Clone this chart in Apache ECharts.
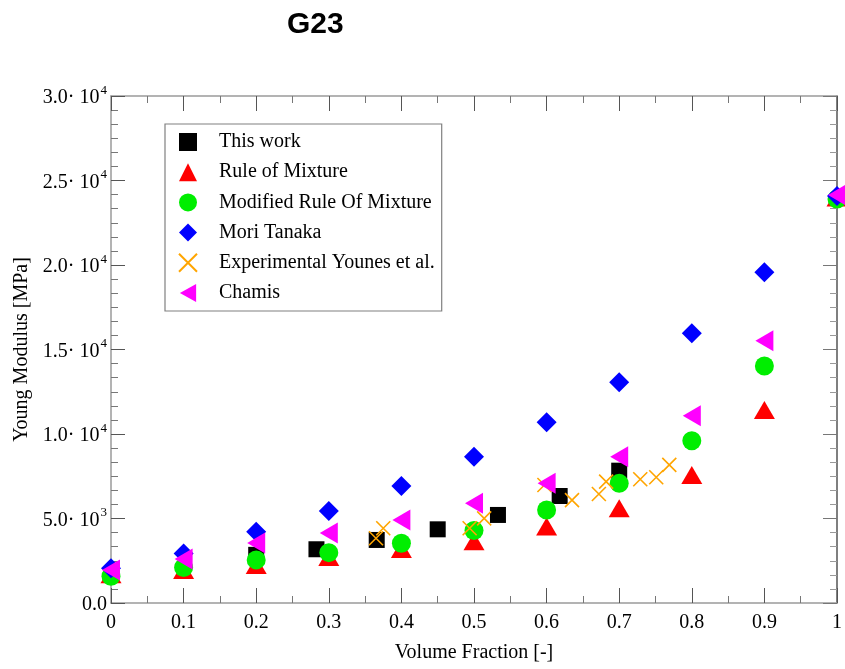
<!DOCTYPE html>
<html>
<head>
<meta charset="utf-8">
<script src="https://cdn.jsdelivr.net/npm/echarts@6/dist/echarts.min.js"></script>
<style>html,body{margin:0;padding:0;background:#fff;}#c{width:845px;height:669px;}</style>
</head>
<body>
<div id="c"></div>
<script>
// ---- data ----
const seriesNames = ['This work','Rule of Mixture','Modified Rule Of Mixture','Mori Tanaka','Experimental Younes et al.','Chamis'];
const thisWorkX = [0.2, 0.283, 0.366, 0.45, 0.533, 0.618, 0.7];
const thisWorkY = [2850, 3180, 3730, 4360, 5210, 6330, 7830];
const volFrac = [0, 0.1, 0.2, 0.3, 0.4, 0.5, 0.6, 0.7, 0.8, 0.9, 1.0];
const ruleOfMixtureY = [1700, 1950, 2250, 2720, 3200, 3650, 4520, 5600, 7570, 11420, 24000];
const modifiedRoMY = [1580, 2100, 2550, 2980, 3540, 4290, 5500, 7080, 9600, 14020, 23900];
const moriTanakaY = [2050, 2930, 4220, 5450, 6920, 8660, 10690, 13060, 15960, 19570, 24080];
const chamisY = [1950, 2600, 3550, 4140, 4910, 5900, 7080, 8660, 11080, 15520, 24140];
const expX = [0.365, 0.375, 0.494, 0.514, 0.597, 0.635, 0.672, 0.682, 0.729, 0.751, 0.769];
const expY = [3830, 4420, 4420, 5010, 6980, 6090, 6450, 7180, 7320, 7440, 8170];
const xTickLabels = ['0','0.1','0.2','0.3','0.4','0.5','0.6','0.7','0.8','0.9','1'];
const yTickMantissa = ['0.0','5.0','1.0','1.5','2.0','2.5','3.0'];
const yTickExp = ['','3','4','4','4','4','4'];

const zip = (xs, ys) => xs.map((x, i) => [x, ys[i]]);
const serif = 'Liberation Serif';
const crossPath = 'path://M0,0L10,10M10,0L0,10';
const leftTriPath = 'path://M0,5L9,0L9,10Z';

const option = {
  backgroundColor: '#fff',
  animation: false,
  title: {
    text: 'G23', left: 282, top: 5,
    textStyle: { fontFamily: 'Liberation Sans', fontWeight: 'bold', fontSize: 30, color: '#000' }
  },
  grid: { left: 111, right: 7, top: 96, bottom: 66, containLabel: false },
  legend: {
    orient: 'vertical', left: 165, top: 124,
    padding: [8, 7, 8, 13],
    itemWidth: 18, itemHeight: 18, itemGap: 10.2,
    borderColor: '#808080', borderWidth: 1.2, backgroundColor: '#fff',
    textStyle: { fontFamily: serif, fontSize: 20, color: '#000', padding: [0, 0, 0, 17] },
    data: seriesNames
  },
  xAxis: [{
    type: 'value', min: 0, max: 1, interval: 0.1,
    name: 'Volume Fraction [-]', nameLocation: 'middle', nameGap: 40,
    nameTextStyle: { fontFamily: serif, fontSize: 20, color: '#000' },
    axisLine: { show: true, onZero: false, lineStyle: { color: '#9a9a9a', width: 1.5 } },
    axisTick: { inside: true, length: 15, lineStyle: { color: '#555' } },
    minorTick: { show: true, splitNumber: 2, length: 7, lineStyle: { color: '#777' } },
    splitLine: { show: false },
    axisLabel: { margin: 10, fontFamily: serif, fontSize: 20, color: '#000',
      formatter: (v) => xTickLabels[Math.round(v * 10)] }
  }, {
    type: 'value', min: 0, max: 1, interval: 0.1, position: 'top',
    axisLine: { show: true, onZero: false, lineStyle: { color: '#9a9a9a', width: 1.5 } },
    axisTick: { inside: true, length: 15, lineStyle: { color: '#555' } },
    minorTick: { show: true, splitNumber: 2, length: 7, lineStyle: { color: '#777' } },
    splitLine: { show: false }, axisLabel: { show: false }
  }],
  yAxis: [{
    type: 'value', min: 0, max: 30000, interval: 5000,
    name: 'Young Modulus [MPa]', nameLocation: 'middle', nameGap: 78,
    nameTextStyle: { fontFamily: serif, fontSize: 20, color: '#000' },
    axisLine: { show: true, onZero: false, lineStyle: { color: '#9a9a9a', width: 1.5 } },
    axisTick: { inside: true, length: 14, lineStyle: { color: '#555' } },
    minorTick: { show: true, splitNumber: 6, length: 7, lineStyle: { color: '#777' } },
    splitLine: { show: false },
    axisLabel: { margin: 4, fontFamily: serif, fontSize: 20, color: '#000',
      formatter: (v) => {
        const i = Math.round(v / 5000);
        return yTickExp[i] ? '{b|' + yTickMantissa[i] + '· 10}{s|' + yTickExp[i] + '}' : '{b|' + yTickMantissa[i] + '}';
      },
      rich: {
        b: { fontFamily: serif, fontSize: 20, color: '#000', verticalAlign: 'bottom', lineHeight: 24 },
        s: { fontFamily: serif, fontSize: 13, color: '#000', verticalAlign: 'top', lineHeight: 24, padding: [0, 0, 14, 1] }
      }
    }
  }, {
    type: 'value', min: 0, max: 30000, interval: 5000, position: 'right',
    axisLine: { show: true, onZero: false, lineStyle: { color: '#555', width: 1.5 } },
    axisTick: { inside: true, length: 14, lineStyle: { color: '#777' } },
    minorTick: { show: true, splitNumber: 6, length: 7, lineStyle: { color: '#999' } },
    splitLine: { show: false }, axisLabel: { show: false }
  }],
  series: [
    { name: seriesNames[0], type: 'scatter', symbol: 'rect', symbolSize: 16,
      itemStyle: { color: '#000', opacity: 1 }, data: zip(thisWorkX, thisWorkY) },
    { name: seriesNames[1], type: 'scatter', symbol: 'triangle', symbolSize: [21, 18],
      itemStyle: { color: '#ff0000', opacity: 1 }, data: zip(volFrac, ruleOfMixtureY) },
    { name: seriesNames[2], type: 'scatter', symbol: 'circle', symbolSize: 19,
      itemStyle: { color: '#00ee00', opacity: 1 }, data: zip(volFrac, modifiedRoMY) },
    { name: seriesNames[3], type: 'scatter', symbol: 'diamond', symbolSize: [20, 20],
      itemStyle: { color: '#0000ff', opacity: 1 }, data: zip(volFrac, moriTanakaY) },
    { name: seriesNames[4], type: 'scatter', symbol: crossPath, symbolSize: 14,
      itemStyle: { color: 'rgba(0,0,0,0)', borderColor: '#ffa500', borderWidth: 1.6, opacity: 1 },
      data: zip(expX, expY) },
    { name: seriesNames[5], type: 'scatter', symbol: leftTriPath, symbolSize: [18, 21],
      itemStyle: { color: '#ff00ff', opacity: 1 }, data: zip(volFrac, chamisY) }
  ]
};
echarts.init(document.getElementById('c'), null, { renderer: 'canvas' }).setOption(option);
</script>
</body>
</html>
